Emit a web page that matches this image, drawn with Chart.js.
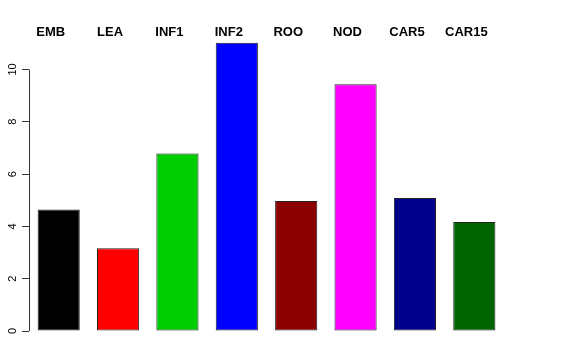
<!DOCTYPE html>
<html lang="en">
<head>
    <meta charset="UTF-8" />
    <title>Bar chart</title>
    <style>
        body { margin: 0; background: #ffffff; }
        #wrap { width: 576px; height: 360px; position: relative; }
    </style>
</head>
<body>
    <div id="wrap"><canvas id="barChart"></canvas></div>

    <script src="https://cdn.jsdelivr.net/npm/chart.js"></script>
    <script>
        // Data
        const categories = ["EMB", "LEA", "INF1", "INF2", "ROO", "NOD", "CAR5", "CAR15"];
        const values = [4.65, 3.16, 6.79, 11.02, 4.97, 9.43, 5.09, 4.17];
        const barColors = ["#000000", "#ff0000", "#00cd00", "#0000ff", "#8b0000", "#ff00ff", "#00008b", "#006400"];
        const yTicks = [0, 2, 4, 6, 8, 10];

        // R-style y axis: line spanning only the tick range, labels rotated and centred on ticks
        const rAxis = {
            id: 'rAxis',
            afterDraw(chart) {
                const y = chart.scales.y;
                const ctx = chart.ctx;
                ctx.save();
                ctx.strokeStyle = '#333';
                ctx.lineWidth = 1;
                ctx.beginPath();
                ctx.moveTo(y.right + 0.5, y.getPixelForValue(yTicks[0]));
                ctx.lineTo(y.right + 0.5, y.getPixelForValue(yTicks[yTicks.length - 1]));
                ctx.stroke();

                ctx.fillStyle = '#000';
                ctx.font = '11px "Liberation Sans"';
                ctx.textAlign = 'center';
                ctx.textBaseline = 'middle';
                yTicks.forEach(v => {
                    ctx.save();
                    ctx.translate(13, y.getPixelForValue(v));
                    ctx.rotate(-Math.PI / 2);
                    ctx.fillText(String(v), 0, 0);
                    ctx.restore();
                });
                ctx.restore();
            }
        };

        const ctx = document.getElementById('barChart').getContext('2d');
        new Chart(ctx, {
            type: 'bar',
            data: {
                labels: categories,
                datasets: [{
                    data: values,
                    backgroundColor: barColors,
                    borderColor: '#222',
                    borderWidth: 1,
                    borderSkipped: false,
                    categoryPercentage: 1,
                    barPercentage: 0.71
                }]
            },
            options: {
                responsive: true,
                maintainAspectRatio: false,
                animation: false,
                layout: { padding: { left: 0, right: 72, top: 0, bottom: 29 } },
                plugins: {
                    legend: { display: false },
                    tooltip: { enabled: false }
                },
                scales: {
                    x: {
                        position: 'top',
                        afterFit: (s) => { s.height = 42; },
                        grid: { display: false, drawTicks: false },
                        border: { display: false },
                        ticks: {
                            color: '#000',
                            padding: 2,
                            labelOffset: -8,
                            maxRotation: 0,
                            font: { family: 'Liberation Sans', size: 13, weight: 'bold' }
                        }
                    },
                    y: {
                        min: 0,
                        max: 11.05,
                        afterBuildTicks: (s) => { s.ticks = yTicks.map(v => ({ value: v })); },
                        afterFit: (s) => { s.width = 29; },
                        grid: { drawOnChartArea: false, tickLength: 7, color: '#333' },
                        border: { display: false },
                        ticks: { display: false }
                    }
                }
            },
            plugins: [rAxis]
        });
    </script>
</body>
</html>
